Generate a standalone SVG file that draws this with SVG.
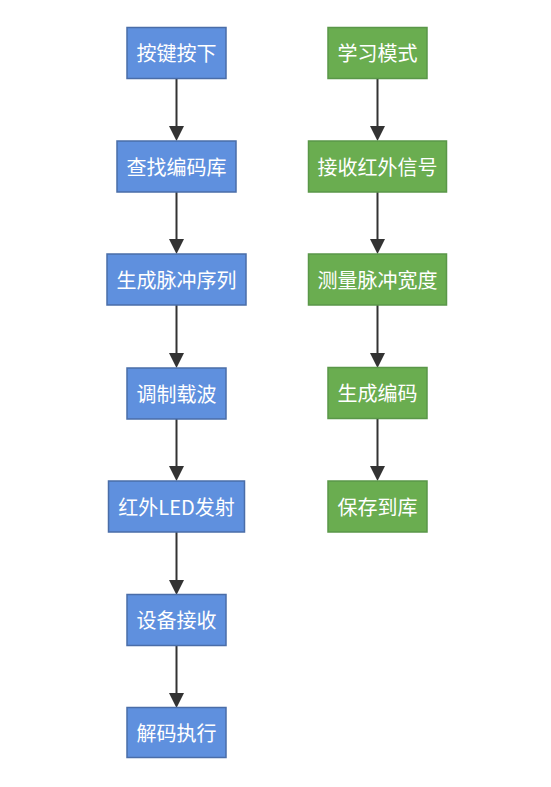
<svg xmlns="http://www.w3.org/2000/svg" width="551" height="787" viewBox="0 0 551 787">
<defs>
<style>
.b rect{fill:#5f90de;stroke:#4a6da8;stroke-width:1.5}
.g rect{fill:#6aad50;stroke:#5a9748;stroke-width:1.5}
text{font-family:"Microsoft YaHei","Noto Sans CJK SC","Liberation Sans",sans-serif;font-size:20px;fill:#fff;text-anchor:middle;dominant-baseline:central}
#edges line{stroke:#333;stroke-width:2}
#edges path{fill:#333}
</style>
</defs>
<rect width="551" height="787" fill="#fff"/>
<g id="edges">
<line x1="176.5" y1="78" x2="176.5" y2="127"/><path d="M169,126 L184,126 L176.5,141 Z"/>
<line x1="176.5" y1="192" x2="176.5" y2="240"/><path d="M169,239 L184,239 L176.5,254 Z"/>
<line x1="176.5" y1="305" x2="176.5" y2="354"/><path d="M169,353 L184,353 L176.5,368 Z"/>
<line x1="176.5" y1="419" x2="176.5" y2="467"/><path d="M169,466 L184,466 L176.5,481 Z"/>
<line x1="176.5" y1="532" x2="176.5" y2="581"/><path d="M169,580 L184,580 L176.5,595 Z"/>
<line x1="176.5" y1="645" x2="176.5" y2="694"/><path d="M169,693 L184,693 L176.5,708 Z"/>
<line x1="377.5" y1="78" x2="377.5" y2="127"/><path d="M370,126 L385,126 L377.5,141 Z"/>
<line x1="377.5" y1="192" x2="377.5" y2="240"/><path d="M370,239 L385,239 L377.5,254 Z"/>
<line x1="377.5" y1="305" x2="377.5" y2="354"/><path d="M370,353 L385,353 L377.5,368 Z"/>
<line x1="377.5" y1="419" x2="377.5" y2="467"/><path d="M370,466 L385,466 L377.5,481 Z"/>
</g>
<g id="n1" class="b"><rect x="127" y="27.5" width="99" height="51"/><text x="176.5" y="52.5">按键按下</text></g>
<g id="n2" class="b"><rect x="117" y="141" width="119" height="51"/><text x="176.5" y="166">查找编码库</text></g>
<g id="n3" class="b"><rect x="107" y="254" width="139" height="51"/><text x="176.5" y="279">生成脉冲序列</text></g>
<g id="n4" class="b"><rect x="127" y="368" width="99" height="51"/><text x="176.5" y="393">调制载波</text></g>
<g id="n5" class="b"><rect x="108.5" y="481" width="136" height="51"/><text x="176.5" y="506">红外LED发射</text></g>
<g id="n6" class="b"><rect x="127" y="594.5" width="99" height="51"/><text x="176.5" y="619.5">设备接收</text></g>
<g id="n7" class="b"><rect x="127" y="707.5" width="99" height="50"/><text x="176.5" y="732.5">解码执行</text></g>
<g id="m1" class="g"><rect x="328" y="27.5" width="99" height="51"/><text x="377.5" y="52.5">学习模式</text></g>
<g id="m2" class="g"><rect x="308.5" y="141" width="138" height="51"/><text x="377.5" y="166">接收红外信号</text></g>
<g id="m3" class="g"><rect x="308.5" y="254" width="138" height="51"/><text x="377.5" y="279">测量脉冲宽度</text></g>
<g id="m4" class="g"><rect x="328" y="367.5" width="99" height="51"/><text x="377.5" y="392.5">生成编码</text></g>
<g id="m5" class="g"><rect x="328" y="481" width="99" height="51"/><text x="377.5" y="506">保存到库</text></g>
</svg>
